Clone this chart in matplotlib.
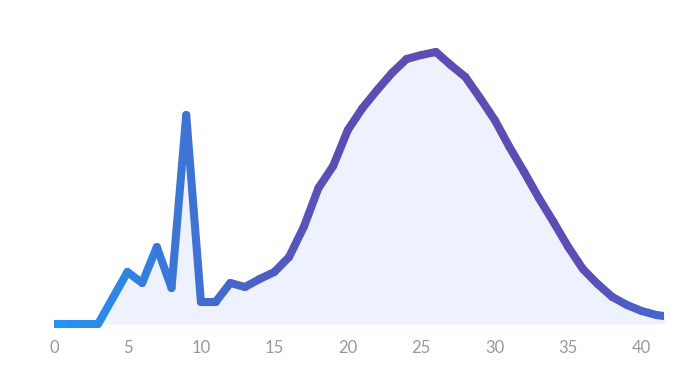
#!/usr/bin/env python3
# Courbe avec dégradé de couleur et aire remplie
import matplotlib
matplotlib.use('Agg')
import matplotlib.pyplot as plt
import numpy as np
from matplotlib.collections import LineCollection
from matplotlib.colors import LinearSegmentedColormap

# ---- Données ----
jours = list(range(0, 43))
valeurs = [0, 0, 0, 0, 26, 52, 41, 77, 36, 209,
           22, 22, 41, 37, 45, 52, 67, 97, 136, 158,
           194, 216, 234, 251, 265, 269, 272, 259, 247, 226,
           204, 177, 152, 126, 102, 77, 55, 40, 27, 19,
           13, 9, 7]
graduations = [0, 5, 10, 15, 20, 25, 30, 35, 40]

couleur_fond = '#EDF2FE'
degrade = LinearSegmentedColormap.from_list('degrade', [
    (0.0, '#2196F3'),
    (0.45, '#5B4DB4'),
    (0.86, '#5B4DB4'),
    (1.0, '#4468D4'),
])


def tracer():
    fig = plt.figure(figsize=(7, 3.89), dpi=100)
    ax = fig.add_axes([54 / 700, 59 / 389, 610 / 700, 300 / 389])

    x = np.array(jours, dtype=float)
    y = np.array(valeurs, dtype=float)

    # aire sous la courbe
    ax.fill_between(x, y, 0, color=couleur_fond, linewidth=0, zorder=1)

    # ligne en dégradé (un segment par intervalle)
    points = np.column_stack([x, y]).reshape(-1, 1, 2)
    segments = np.concatenate([points[:-1], points[1:]], axis=1)
    milieux = (x[:-1] + x[1:]) / 2
    couleurs = degrade(milieux / x.max())
    lc = LineCollection(segments, colors=couleurs, linewidths=5.8,
                        capstyle='round', joinstyle='round', zorder=2)
    ax.add_collection(lc)

    ax.set_xlim(0, 41.52)
    ax.set_ylim(-6, 294)

    for s in ax.spines.values():
        s.set_visible(False)
    ax.set_yticks([])
    ax.set_xticks(graduations)
    ax.set_xticklabels([str(g) for g in graduations])
    ax.tick_params(axis='x', length=0, pad=7, labelsize=12,
                   labelcolor='#999999')
    for t in ax.get_xticklabels():
        t.set_fontfamily('Lato')

    fig.savefig('out.png', dpi=100)


if __name__ == '__main__':
    tracer()
